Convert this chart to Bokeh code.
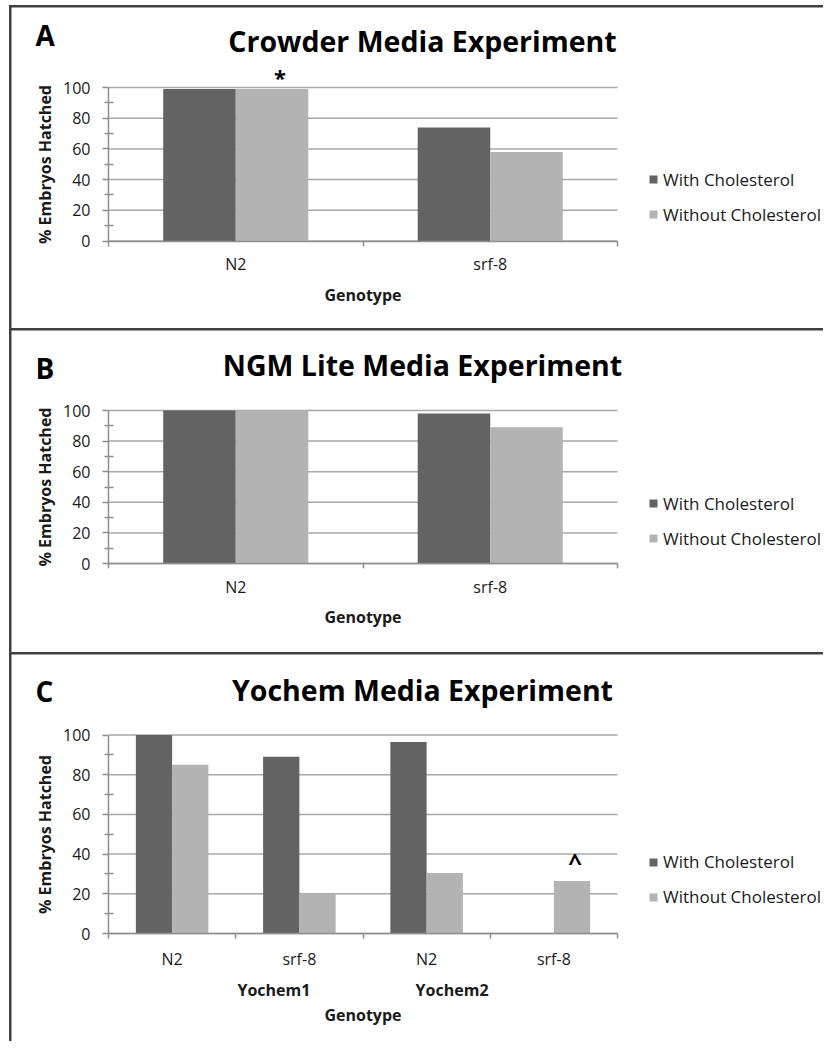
from bokeh.plotting import figure
from bokeh.models import (ColumnDataSource, Range1d, LinearAxis, FixedTicker,
                          Legend, LegendItem, Label, Spacer)
from bokeh.transform import dodge
from bokeh.layouts import column, row
from bokeh.embed import file_html
from bokeh.resources import INLINE

# ---------------- data ----------------
series_names = ["With Cholesterol", "Without Cholesterol"]
series_colors = ["#636363", "#b3b3b3"]

crowder_genotypes = ["N2", "srf-8"]
crowder_with = [99, 74]
crowder_without = [99, 58]

ngm_genotypes = ["N2", "srf-8"]
ngm_with = [100, 98]
ngm_without = [100, 89]

yochem_media = ["Yochem1", "Yochem1", "Yochem2", "Yochem2"]
yochem_genotypes = ["N2", "srf-8", "N2", "srf-8"]
yochem_with = [100, 89, 96.5, 0]
yochem_without = [85, 20, 30.5, 26.5]

y_ticks = [0, 20, 40, 60, 80, 100]

# ---------------- style ----------------
FONT = "Open Sans"
TEXT = "#1a1a1a"
AXIS = "#8f8f8f"
GRID = "#a8a8a8"
BORDER = "#404040"
W = 812
PLOT_LEFT = 97      # pixel of the y axis
PLOT_W = 509        # width of the bar area
BAR_W = 0.285
TITLE_X = 411
LETTER_X = 24
LEGEND_X = 637
MEDIA_PULL = 0.3
BASE_FIX = 12       # baseline correction for the big labels


def make_panel(letter, title, genotypes, with_vals, without_vals, *, height, plot_top,
               plot_h, letter_base, title_base, label_standoff, genotype_standoff,
               legend_bottom, media=None, media_standoff=45, note=None):
    n = len(genotypes)
    plot_bottom_px = height - plot_top - plot_h       # pixels under the y=0 line
    ux = n / PLOT_W                                    # data units per pixel (x)
    uy = 100 / plot_h                                  # data units per pixel (y)
    x_range = Range1d(-0.5 - PLOT_LEFT * ux, -0.5 + (W - PLOT_LEFT) * ux)
    y_range = Range1d(-plot_bottom_px * uy, 100 + plot_top * uy)

    p = figure(width=W, height=height, x_range=x_range, y_range=y_range,
               x_axis_type=None, y_axis_type=None, output_backend="svg", toolbar_location=None,
               min_border=0, min_border_left=0, min_border_right=0, min_border_top=0,
               min_border_bottom=0, margin=(2, 0, 0, 2))
    p.outline_line_color = None
    p.border_fill_color = "white"
    p.background_fill_color = "white"
    p.xgrid.visible = False
    p.ygrid.visible = False

    # horizontal grid lines over the bar area only
    p.segment(x0=[-0.5] * len(y_ticks), x1=[n - 0.5] * len(y_ticks), y0=y_ticks, y1=y_ticks,
              line_color=GRID, line_width=1.5, level="underlay")

    src = ColumnDataSource(dict(pos=list(range(n)), with_chol=with_vals, without_chol=without_vals))
    r_with = p.vbar(x=dodge("pos", -BAR_W / 2, range=p.x_range), top="with_chol", width=BAR_W,
                    source=src, fill_color=series_colors[0], line_color=None)
    r_without = p.vbar(x=dodge("pos", BAR_W / 2, range=p.x_range), top="without_chol", width=BAR_W,
                       source=src, fill_color=series_colors[1], line_color=None)

    y_minor = [(a + b) / 2 for a, b in zip(y_ticks, y_ticks[1:])]
    yax = LinearAxis(ticker=FixedTicker(ticks=y_ticks, minor_ticks=y_minor),
                     fixed_location=-0.5, bounds=(0, 100),
                     axis_label="% Embryos Hatched",
                     axis_line_color=AXIS, axis_line_width=1.5,
                     major_tick_line_color=AXIS, major_tick_line_width=1.5,
                     major_tick_out=6, major_tick_in=0,
                     minor_tick_line_color=AXIS, minor_tick_line_width=1.5,
                     minor_tick_out=4, minor_tick_in=5,
                     major_label_standoff=12, major_label_text_font=FONT,
                     major_label_text_font_size="16px", major_label_text_color=TEXT,
                     axis_label_standoff=4, axis_label_text_font=FONT,
                     axis_label_text_font_size="16px", axis_label_text_font_style="bold",
                     axis_label_text_color=TEXT)
    p.add_layout(yax, "left")

    xax = LinearAxis(ticker=FixedTicker(ticks=list(range(n)),
                                        minor_ticks=[i - 0.5 for i in range(n + 1)]),
                     fixed_location=0, bounds=(-0.5, n - 0.5),
                     major_label_overrides={i: g for i, g in enumerate(genotypes)},
                     axis_line_color=AXIS, axis_line_width=1.5,
                     major_tick_line_color=None, major_tick_out=0, major_tick_in=0,
                     minor_tick_line_color=AXIS, minor_tick_line_width=1.5,
                     minor_tick_out=5, minor_tick_in=0,
                     major_label_standoff=label_standoff, major_label_text_font=FONT,
                     major_label_text_font_size="16px", major_label_text_color=TEXT,
                     axis_label_text_font=FONT, axis_label_text_font_size="16px",
                     axis_label_text_font_style="bold", axis_label_text_color=TEXT)
    p.add_layout(xax, "below")

    if media is None:
        xax.axis_label = "Genotype"
        xax.axis_label_standoff = genotype_standoff
    else:
        groups = []
        for m in media:
            if m not in groups:
                groups.append(m)
        mid = (n - 1) / 2
        pos = []
        for g in groups:
            idx = [i for i, m in enumerate(media) if m == g]
            c = sum(idx) / len(idx)
            pos.append(c + (mid - c) * MEDIA_PULL)
        max_ = LinearAxis(ticker=FixedTicker(ticks=pos), fixed_location=0,
                          bounds=(-0.5, n - 0.5),
                          major_label_overrides={v: g for v, g in zip(pos, groups)},
                          axis_line_color=None, major_tick_line_color=None,
                          major_tick_out=0, major_tick_in=0,
                          minor_tick_line_color=None, minor_tick_out=0, minor_tick_in=0,
                          major_label_standoff=media_standoff,
                          major_label_text_font=FONT,
                          major_label_text_font_size="16px", major_label_text_font_style="bold",
                          major_label_text_color=TEXT,
                          axis_label="Genotype", axis_label_standoff=genotype_standoff,
                          axis_label_text_font=FONT, axis_label_text_font_size="16px",
                          axis_label_text_font_style="bold", axis_label_text_color=TEXT)
        p.add_layout(max_, "below")

    legend = Legend(items=[LegendItem(label=series_names[0], renderers=[r_with]),
                           LegendItem(label=series_names[1], renderers=[r_without])],
                    location=(LEGEND_X, legend_bottom), orientation="vertical",
                    border_line_color=None, background_fill_alpha=0,
                    glyph_width=10, glyph_height=10, label_standoff=5, spacing=12,
                    padding=0, margin=0, label_text_font=FONT, label_text_font_size="17px",
                    label_text_color=TEXT, label_height=20)
    p.add_layout(legend)

    p.add_layout(Label(x=LETTER_X, y=height - letter_base + BASE_FIX, x_units="screen",
                       y_units="screen", text=letter, text_font=FONT, text_font_size="28px",
                       text_font_style="bold", text_color="black",
                       text_baseline="alphabetic", text_align="left"))
    p.add_layout(Label(x=TITLE_X, y=height - title_base + BASE_FIX, x_units="screen",
                       y_units="screen", text=title, text_font=FONT, text_font_size="28.5px",
                       text_font_style="bold", text_color="black",
                       text_baseline="alphabetic", text_align="center"))

    if note is not None:
        vals = with_vals if note["series"] == 0 else without_vals
        shift = -BAR_W / 2 if note["series"] == 0 else BAR_W / 2
        i = note["index"]
        p.add_layout(Label(x=i + shift, y=vals[i], x_offset=note["dx"], y_offset=note["dy"],
                           text=note["text"], text_font=FONT, text_font_size=note["size"],
                           text_font_style="bold", text_color="black",
                           text_baseline="alphabetic", text_align="center"))
    return p


pA = make_panel("A", "Crowder Media Experiment", crowder_genotypes, crowder_with, crowder_without,
                height=321, plot_top=80, plot_h=153.5, letter_base=39, title_base=45.5,
                label_standoff=7, genotype_standoff=5, legend_bottom=102.5,
                note=dict(text="*", series=1, index=0, dx=8, dy=12, size="22px"))
pB = make_panel("B", "NGM Lite Media Experiment", ngm_genotypes, ngm_with, ngm_without,
                height=322, plot_top=80, plot_h=153, letter_base=49, title_base=46,
                label_standoff=7, genotype_standoff=5, legend_bottom=102.5)
pC = make_panel("C", "Yochem Media Experiment", yochem_genotypes, yochem_with, yochem_without,
                height=387, plot_top=80.5, plot_h=198.5, letter_base=48.5, title_base=47,
                label_standoff=9, genotype_standoff=0, legend_bottom=133, media=yochem_media,
                media_standoff=45,
                note=dict(text="^", series=1, index=3, dx=3, dy=19.5, size="24px"))

panels = column(pA, pB, pC, spacing=0, styles={"background-color": BORDER})
layout = column(Spacer(width=823, height=5),
                row(Spacer(width=9, height=1036), panels, spacing=0),
                spacing=0)

open("out.html", "w").write(file_html(layout, INLINE))
